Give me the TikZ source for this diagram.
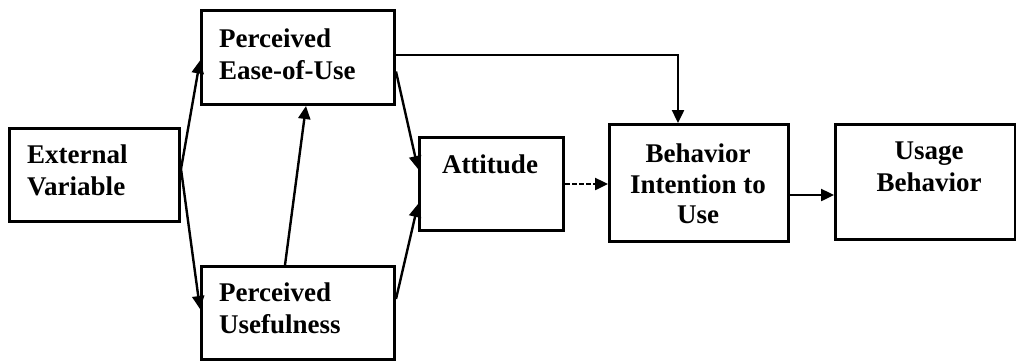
\documentclass[tikz,border=0pt]{standalone}
\usepackage{fontspec}
\setmainfont{Liberation Serif}
\usetikzlibrary{arrows.meta,calc}
\begin{document}
\begin{tikzpicture}[x=1pt,y=-1pt,
 box/.style={draw, line width=3pt, inner sep=0pt, anchor=north west},
 txt/.style={font=\fontsize{27}{32}\selectfont\bfseries, inner sep=0pt},
 conn/.style={line width=2.4pt, -{Triangle[length=13pt,width=12pt]}}]
\useasboundingbox (0,0) rectangle (1016,360);
% boxes
\node[box, minimum width=170pt, minimum height=93pt] (ev) at (8,127) {};
\node[box, minimum width=193pt, minimum height=94pt] (peu) at (200,9) {};
\node[box, minimum width=193pt, minimum height=93pt] (pu) at (200,265) {};
\node[box, minimum width=144pt, minimum height=93pt] (att) at (418,136) {};
\node[box, minimum width=179pt, minimum height=117pt] (bi) at (608,123) {};
\node[box, minimum width=180pt, minimum height=115pt] (ub) at (834,123) {};
% texts
\node[txt, anchor=west, align=left] (evt) at (27,170) {External\\Variable};
\node[txt, anchor=west, align=left] (peut) at (219,54) {Perceived\\Ease-of-Use};
\node[txt, anchor=west, align=left] (put) at (219,308) {Perceived\\Usefulness};
\node[txt, anchor=base] (attt) at (490,173) {Attitude};
\node[txt, anchor=center, align=center, font=\fontsize{27}{30.5}\selectfont\bfseries] (bit) at (698,184) {Behavior\\Intention to\\Use};
\node[txt, anchor=center, align=center] (ubt) at (929,167) {Usage\\Behavior};
% connectors
\coordinate (evo) at ($(ev.east)+(0,-6)$);
\draw[conn] (evo) -- ($(peu.west)+(0,3)$);
\draw[conn] (evo) -- ($(pu.west)+(0,-4)$);
\draw[conn] ($(pu.north)+(-13,0)$) -- ($(peu.south)+(8,0)$);
\draw[conn] ($(peu.east)+(0,14)$) -- ($(att.west)+(0,-15)$);
\draw[conn] ($(pu.east)+(0,-14)$) -- ($(att.west)+(0,20)$);
\draw[conn] ($(peu.north east)+(0,46)$) -| ($(bi.north west)+(70,0)$);
\draw[conn, dash pattern=on 5pt off 2pt] (att.east) -- (att.east -| bi.west);
\coordinate (bio) at ($(bi.east)+(0,12)$);
\draw[conn] (bio) -- (bio -| ub.west);
\end{tikzpicture}
\end{document}
